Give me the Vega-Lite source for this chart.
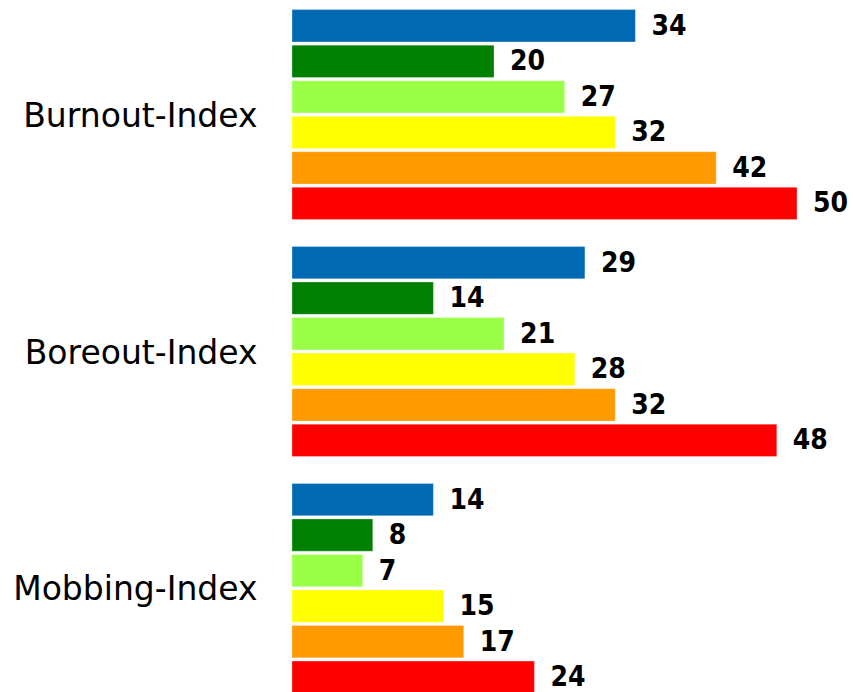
{
  "$schema": "https://vega.github.io/schema/vega-lite/v6.json",
  "width": 505,
  "height": 687,
  "autosize": {"type": "none"},
  "padding": {"top": 8, "left": 292, "right": 56, "bottom": 0},
  "background": "white",
  "config": {"view": {"stroke": null}},
  "data": {"values": [
    {"cat": "Burnout-Index", "s": "s1", "v": 34},
    {"cat": "Burnout-Index", "s": "s2", "v": 20},
    {"cat": "Burnout-Index", "s": "s3", "v": 27},
    {"cat": "Burnout-Index", "s": "s4", "v": 32},
    {"cat": "Burnout-Index", "s": "s5", "v": 42},
    {"cat": "Burnout-Index", "s": "s6", "v": 50},
    {"cat": "Boreout-Index", "s": "s1", "v": 29},
    {"cat": "Boreout-Index", "s": "s2", "v": 14},
    {"cat": "Boreout-Index", "s": "s3", "v": 21},
    {"cat": "Boreout-Index", "s": "s4", "v": 28},
    {"cat": "Boreout-Index", "s": "s5", "v": 32},
    {"cat": "Boreout-Index", "s": "s6", "v": 48},
    {"cat": "Mobbing-Index", "s": "s1", "v": 14},
    {"cat": "Mobbing-Index", "s": "s2", "v": 8},
    {"cat": "Mobbing-Index", "s": "s3", "v": 7},
    {"cat": "Mobbing-Index", "s": "s4", "v": 15},
    {"cat": "Mobbing-Index", "s": "s5", "v": 17},
    {"cat": "Mobbing-Index", "s": "s6", "v": 24}
  ]},
  "encoding": {
    "y": {"field": "cat", "type": "nominal", "sort": null, "title": null,
      "scale": {"paddingInner": 0.1, "paddingOuter": 0},
      "axis": {"domain": false, "ticks": false, "labelPadding": 35, "labelFont": "DejaVu Sans", "labelFontSize": 33, "labelColor": "#000000", "labelLimit": 300, "labelOffset": 2}},
    "yOffset": {"field": "s", "type": "nominal", "scale": {"paddingInner": 0.09, "paddingOuter": 0.045}},
    "x": {"field": "v", "type": "quantitative", "scale": {"domain": [0, 50]}, "axis": null}
  },
  "layer": [
    {"mark": {"type": "bar", "stroke": "white", "strokeWidth": 0.5, "strokeOpacity": 0.6},
     "encoding": {"color": {"field": "s", "type": "nominal", "legend": null,
       "scale": {"domain": ["s1","s2","s3","s4","s5","s6"], "range": ["#0069b3", "#008000", "#99ff47", "#ffff00", "#ff9900", "#ff0000"]}}}},
    {"mark": {"type": "text", "align": "left", "baseline": "middle", "dx": 16, "dy": 1, "font": "DejaVu Sans Condensed", "fontWeight": "bold", "fontSize": 28, "color": "#000000"},
     "encoding": {"text": {"field": "v", "type": "quantitative"}}}
  ]
}
